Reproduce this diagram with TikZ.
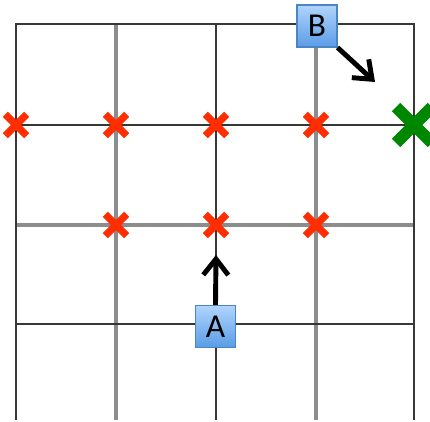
\documentclass[tikz,border=0pt]{standalone}
\usepackage{fontspec}
\setsansfont{Carlito}
\usetikzlibrary{arrows.meta,shapes.misc}
\definecolor{R}{RGB}{255, 45, 0}
\definecolor{G}{RGB}{0, 135, 0}
\definecolor{L}{RGB}{55, 55, 55}
\definecolor{Gr}{RGB}{140, 140, 140}
\definecolor{Btop}{RGB}{176, 212, 252}
\definecolor{Bbot}{RGB}{90, 156, 230}

\tikzset{
  blackline/.style={color=L, line width=0.7pt},
  grayline/.style={color=Gr, line width=1.1pt},
  redx/.style={cross out, draw=R, line width=2.1pt, minimum size=0.14cm, inner sep=0pt},
  greenx/.style={cross out, draw=G, line width=3.4pt, minimum size=0.24cm, inner sep=0pt},
  agent/.style={draw=Bbot!85!black, line width=0.3pt, top color=Btop, bottom color=Bbot,
    minimum width=0.40cm, minimum height=0.42cm, inner sep=0pt,
    font=\sffamily\fontsize{9.5}{11}\selectfont},
  move/.style={black, line width=1.4pt, -{Straight Barb[length=1.6mm,width=2.5mm]}}
}

\begin{document}
\begin{tikzpicture}
  \useasboundingbox (0,0) rectangle (4.30,4.22);

	%# REJILLA
  \draw[grayline] (1.16,3.98) -- (1.16,0.02);
  \draw[grayline] (3.16,3.98) -- (3.16,0.02);
  \draw[grayline] (0.16,1.97) -- (4.14,1.97);
  \draw[blackline] (0.16,0.02) -- (0.16,3.98) -- (4.14,3.98) -- (4.14,0.02);
  \draw[blackline] (2.16,3.98) -- (2.16,0.02);
  \draw[blackline] (0.16,2.97) -- (4.14,2.97);
  \draw[blackline] (0.16,0.98) -- (4.14,0.98);

	%# CRUCES
  \node[redx] (x1) at (0.16,2.97) {};
  \node[redx] (x2) at (1.16,2.97) {};
  \node[redx] (x3) at (2.16,2.97) {};
  \node[redx] (x4) at (3.16,2.97) {};
  \node[redx] (x5) at (1.16,1.97) {};
  \node[redx] (x6) at (2.16,1.97) {};
  \node[redx] (x7) at (3.16,1.97) {};
  \node[greenx] (goal) at (4.14,2.97) {};

	%# AGENTES
  \node[agent] (A) at (2.155,0.955) {A};
  \node[agent] (B) at (3.17,3.96) {B};
  \coordinate (aend) at (2.16,1.67);
  \coordinate (bend) at (3.75,3.40);
  \draw[move] (A.north) -- (aend);
  \draw[move] (B.south east) -- (bend);
\end{tikzpicture}
\end{document}
